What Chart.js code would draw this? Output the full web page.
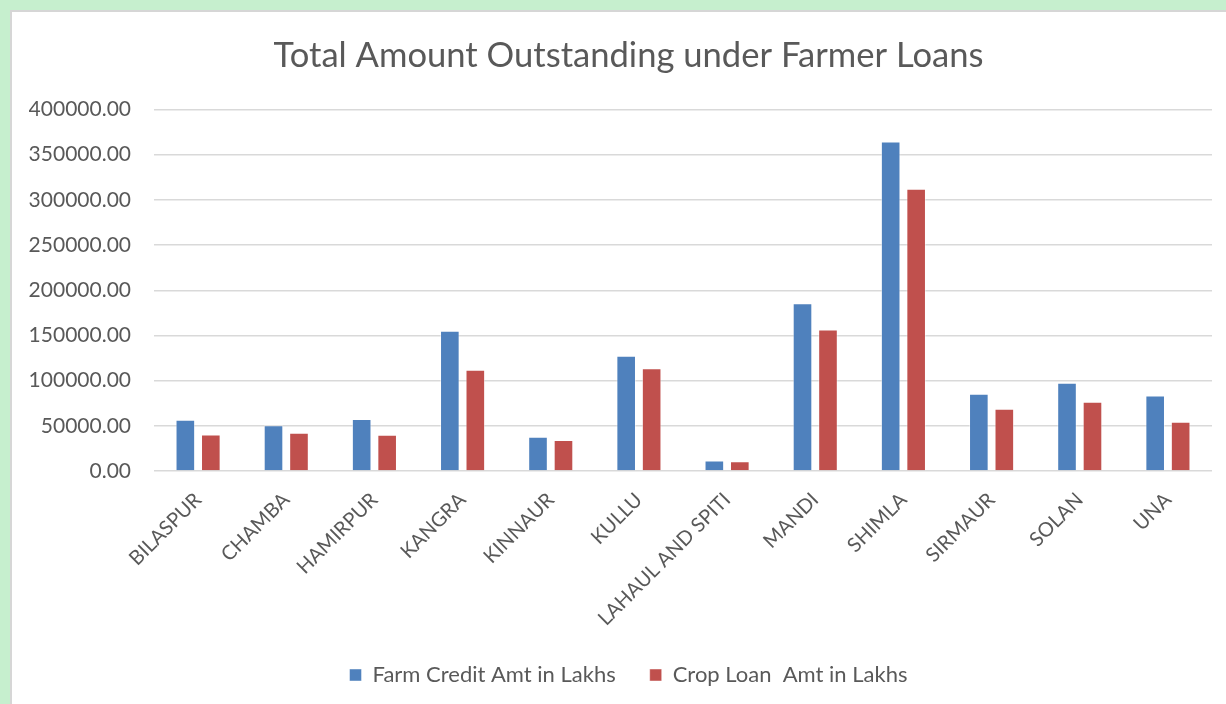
<!DOCTYPE html>
<html>
<head>
<meta charset="utf-8">
<script src="https://cdn.jsdelivr.net/npm/chart.js@4.4.1/dist/chart.umd.min.js"></script>
<style>
  html, body { margin: 0; padding: 0; background: #c6efce; overflow: hidden; }
  #wrap {
    position: absolute; left: 10px; top: 10px;
    width: 1230px; height: 692px;
    border-left: 2px solid #d6d6d6; border-top: 2px solid #d6d6d6;
    background: #fff;
  }
  #myChart01 { display: block; }
</style>
</head>
<body>
<div id="wrap"><canvas id="myChart01" width="1230" height="692"></canvas></div>
<script>
// districts on the x axis
var districts = ['BILASPUR', 'CHAMBA', 'HAMIRPUR', 'KANGRA', 'KINNAUR', 'KULLU',
    'LAHAUL AND SPITI', 'MANDI', 'SHIMLA', 'SIRMAUR', 'SOLAN', 'UNA'];

// amounts in lakhs
var farmCredit = [56800, 50500, 57500, 155100, 38000, 127500, 11500, 185600, 364600, 85500, 97700, 83600];
var cropLoan = [40500, 42400, 40200, 112000, 34300, 113800, 10700, 156600, 312400, 68900, 76700, 54600];

var seriesNames = ['Farm Credit Amt in Lakhs', 'Crop Loan  Amt in Lakhs'];
var yMax = 400000;
var yStep = 50000;

var textColor = '#595959';
var fontName = 'Lato, "Open Sans", sans-serif';

//產生圖表
var ctx01 = document.getElementById('myChart01');
var chart01 = new Chart(ctx01, {
    type: 'bar',
    data: {
        labels: districts,
        datasets: [{
            label: seriesNames[0],
            data: farmCredit,
            backgroundColor: '#4f81bd',
            borderColor: 'rgba(255,255,255,0.45)',
            borderWidth: 1
        }, {
            label: seriesNames[1],
            data: cropLoan,
            backgroundColor: '#c0504d',
            borderColor: 'rgba(255,255,255,0.45)',
            borderWidth: 1
        }]
    },
    options: {
        responsive: false,
        animation: false,
        categoryPercentage: 0.578,
        barPercentage: 0.77,
        layout: {
            padding: { left: 17, right: 14, top: 0, bottom: 8 }
        },
        plugins: {
            title: {
                display: true,
                text: 'Total Amount Outstanding under Farmer Loans',
                color: textColor,
                font: { family: fontName, size: 34.6, weight: 'normal' },
                padding: { top: 23, bottom: 33 }
            },
            legend: {
                position: 'bottom',
                labels: {
                    color: textColor,
                    font: { family: fontName, size: 22 },
                    boxWidth: 12,
                    boxHeight: 12,
                    padding: 34
                }
            },
            tooltip: { enabled: false }
        },
        scales: {
            x: {
                grid: { display: false },
                border: { display: false },
                ticks: {
                    color: textColor,
                    font: { family: fontName, size: 20 },
                    padding: 9,
                    minRotation: 45,
                    maxRotation: 45,
                    autoSkip: false
                },
                afterFit: function (scale) { scale.height = 159; }
            },
            y: {
                min: 0,
                max: yMax,
                border: { display: false },
                grid: { color: '#d9d9d9', lineWidth: 1.5, drawTicks: false },
                ticks: {
                    stepSize: yStep,
                    color: textColor,
                    padding: 23,
                    font: { family: fontName, size: 21 },
                    callback: function (v) { return v.toFixed(2); }
                },
                afterFit: function (scale) { scale.width = 125; }
            },
            // empty strip on the right so the plot ends a little before the title/legend box
            yRight: {
                position: 'right',
                grid: { display: false },
                border: { display: false },
                ticks: { display: false },
                afterFit: function (scale) { scale.width = 16; }
            }
        }
    }
});
</script>
</body>
</html>
